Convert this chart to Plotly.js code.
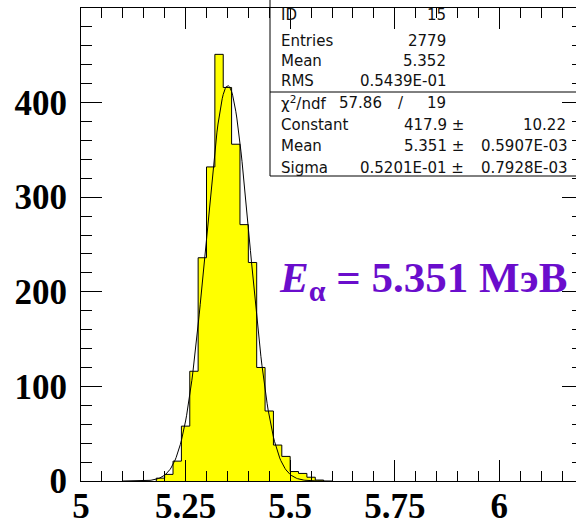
<!DOCTYPE html>
<html>
<head>
<meta charset="utf-8">
<script src="https://cdn.plot.ly/plotly-3.0.1.min.js"></script>
<style>
  html, body { margin: 0; padding: 0; overflow: hidden; background: #fff; }
  #chart { width: 584px; height: 523px; }
</style>
</head>
<body>
<div id="chart"></div>
<script>
// Alpha-particle energy spectrum (MeV), 0.02 MeV bins
const binLow = [5.18, 5.20, 5.22, 5.24, 5.26, 5.28, 5.30, 5.32, 5.34, 5.36, 5.38,
                5.40, 5.42, 5.44, 5.46, 5.48, 5.50, 5.52, 5.54, 5.56];
const binWidth = 0.02;
const counts = [3, 7, 21, 58, 116, 236, 332, 451, 416, 356, 271,
                231, 120, 74, 38, 26, 10, 8, 4, 1];

// Histogram summary
const statNames = ['ID', 'Entries', 'Mean', 'RMS'];
const statValues = ['15', '2779', '5.352', '0.5439E-01'];

// Gaussian fit result
const chi2 = '57.86';
const ndf = '19';
const fitNames = ['Constant', 'Mean', 'Sigma'];
const fitValues = [417.9, 5.351, 0.05201];
const fitErrors = ['10.22', '0.5907E-03', '0.7928E-03'];
const fitRange = [5.1, 5.6];

const xTicks = [5, 5.25, 5.5, 5.75, 6];
const xTickText = ['5', '5.25', '5.5', '5.75', '6'];
const yTicks = [0, 100, 200, 300, 400];
const yTickText = ['0', '100', '200', '300', '400'];

// ---- build step outline of the histogram ----
const stepX = [binLow[0]];
const stepY = [0];
binLow.forEach((lo, i) => { stepX.push(lo); stepY.push(counts[i]); });
stepX.push(binLow[binLow.length - 1] + binWidth);
stepY.push(0);

// ---- fitted gaussian ----
const [C, mu, sg] = fitValues;
const fx = [], fy = [];
const nPts = 200;
for (let i = 0; i <= nPts; i++) {
  const x = fitRange[0] + (fitRange[1] - fitRange[0]) * i / nPts;
  fx.push(x);
  fy.push(C * Math.exp(-0.5 * Math.pow((x - mu) / sg, 2)));
}

function rootFmt(v) {
  if (Math.abs(v) >= 0.1) return String(v);
  const e = Math.floor(Math.log10(Math.abs(v))) + 1;
  const m = (v / Math.pow(10, e)).toFixed(4);
  const s = e < 0 ? '-' : '+';
  return m + 'E' + s + String(Math.abs(e)).padStart(2, '0');
}

// ---- page geometry (pixels) ----
const W = 584, H = 523;
const M = { l: 81, r: 1, t: 8, b: 42 };
const PW = W - M.l - M.r, PH = H - M.t - M.b;
const px = x => (x - M.l) / PW;
const py = y => (H - M.b - y) / PH;

const statFont = { family: 'DejaVu Sans', size: 15, color: '#111' };
const annotations = [];
function txt(text, x, y, anchor) {
  annotations.push({
    xref: 'paper', yref: 'paper', x: px(x), y: py(y),
    xanchor: anchor, yanchor: 'middle', text: text, showarrow: false,
    font: statFont, borderpad: 0
  });
}

const rowY = [15, 40.5, 61, 81.5, 103, 124.5, 146, 167.5];
statNames.forEach((n, i) => {
  txt(n, 280, rowY[i], 'left');
  txt(statValues[i], 447, rowY[i], 'right');
});
txt('χ<sup>2</sup>/ndf', 280, rowY[4], 'left');
txt(chi2, 338, rowY[4], 'left');
txt('/', 401, rowY[4], 'center');
txt(ndf, 447, rowY[4], 'right');
fitNames.forEach((n, i) => {
  const r = rowY[5 + i];
  txt(n, 280, r, 'left');
  txt(rootFmt(fitValues[i]) + ' ±', 465, r, 'right');
  if (i === 0) txt(fitErrors[i], 567, r, 'right');
  else txt(fitErrors[i], 480, r, 'left');
});

annotations.push({
  xref: 'paper', yref: 'paper', x: px(277), y: py(281),
  xanchor: 'left', yanchor: 'middle', showarrow: false,
  text: '<i>E</i><sub>α</sub> = 5.351 МэВ',
  font: { family: 'Liberation Serif', size: 43, color: '#6a0dcc', weight: 'bold' }
});

const shapes = [
  { type: 'rect', xref: 'paper', yref: 'paper', layer: 'below',
    x0: px(270), x1: px(700), y0: py(176), y1: py(-20),
    line: { color: '#000', width: 1 }, fillcolor: 'rgba(0,0,0,0)' },
  { type: 'line', xref: 'paper', yref: 'paper', layer: 'below',
    x0: px(270), x1: px(700), y0: py(92), y1: py(92),
    line: { color: '#000', width: 1 } }
];

const tickFont = { family: 'Liberation Serif', size: 35, color: '#000', weight: 'bold' };

const data = [
  { type: 'scatter', mode: 'lines', x: stepX, y: stepY,
    line: { shape: 'hv', color: '#000', width: 1 },
    fill: 'tozeroy', fillcolor: '#ffff00', hoverinfo: 'skip' },
  { type: 'scatter', mode: 'lines', x: fx, y: fy,
    line: { color: '#000', width: 1 }, hoverinfo: 'skip' }
];

const layout = {
  width: W, height: H, margin: M,
  paper_bgcolor: '#fff', plot_bgcolor: 'rgba(0,0,0,0)',
  showlegend: false,
  xaxis: {
    range: [5, 6.2], showgrid: false, zeroline: false,
    showline: true, linecolor: '#000', linewidth: 1, mirror: 'ticks',
    ticks: 'inside', ticklen: 21, tickcolor: '#000', tickwidth: 1,
    tickmode: 'array', tickvals: xTicks, ticktext: xTickText,
    tickfont: tickFont, ticklabelstandoff: -6,
    minor: { ticks: 'inside', ticklen: 10, dtick: 0.05, tick0: 5, tickcolor: '#000', tickwidth: 1 }
  },
  yaxis: {
    range: [0, 500], showgrid: false, zeroline: false,
    showline: true, linecolor: '#000', linewidth: 1, mirror: 'ticks',
    ticks: 'inside', ticklen: 21, tickcolor: '#000', tickwidth: 1,
    tickmode: 'array', tickvals: yTicks, ticktext: yTickText,
    tickfont: tickFont, ticklabelstandoff: 6,
    minor: { ticks: 'inside', ticklen: 11, dtick: 20, tick0: 0, tickcolor: '#000', tickwidth: 1 }
  },
  annotations: annotations,
  shapes: shapes
};

Plotly.newPlot('chart', data, layout, { staticPlot: true, displayModeBar: false });
</script>
</body>
</html>
